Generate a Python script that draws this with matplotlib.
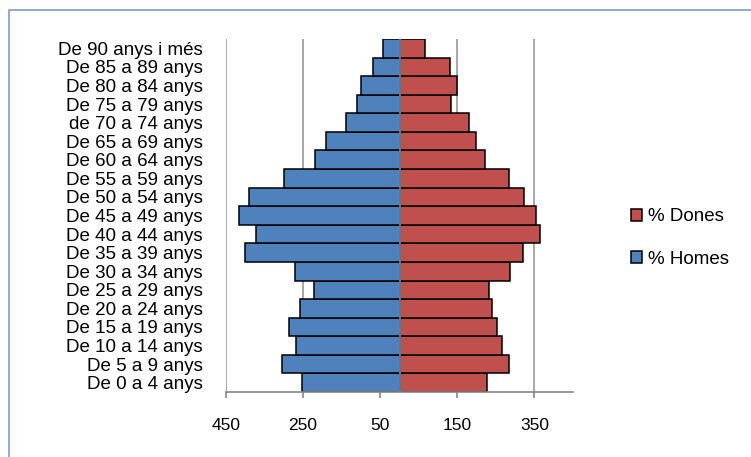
import numpy as np
import matplotlib.pyplot as plt
from matplotlib.patches import Rectangle

# age groups, bottom to top
groups = ["De 0 a 4 anys", "De 5 a 9 anys", "De 10 a 14 anys", "De 15 a 19 anys",
          "De 20 a 24 anys", "De 25 a 29 anys", "De 30 a 34 anys", "De 35 a 39 anys",
          "De 40 a 44 anys", "De 45 a 49 anys", "De 50 a 54 anys", "De 55 a 59 anys",
          "De 60 a 64 anys", "De 65 a 69 anys", "de 70 a 74 anys", "De 75 a 79 anys",
          "De 80 a 84 anys", "De 85 a 89 anys", "De 90 anys i més"]
homes = [-253, -306, -268, -286, -258, -221, -272, -402, -372, -415,
         -391, -300, -218, -190, -139, -110, -100, -70, -43]
dones = [227, 283, 266, 253, 241, 233, 287, 321, 364, 355,
         322, 285, 222, 198, 181, 134, 148, 131, 66]
xticks = [-450, -250, -50, 150, 350]
grid_x = [-450, -250, 150, 350]

plt.rcParams['font.family'] = ['Liberation Sans', 'DejaVu Sans']

fig = plt.figure(figsize=(7.51, 4.57), dpi=100)
fig.patches.append(Rectangle((9 / 751, 0 - 0.05), 1.1, 1 - 10 / 457 + 0.05,
                             transform=fig.transFigure, fill=False,
                             edgecolor='#7B9CCB', linewidth=1.2))

ax = fig.add_axes([226 / 751, (457 - 392) / 457, (573 - 226) / 751, (392 - 39) / 457])
y = np.arange(len(groups))

for gx in grid_x:
    ax.axvline(gx, color='#9A9A9A', linewidth=1.2, zorder=0)

ax.barh(y, dones, height=1.0, color='#C0504D', edgecolor='black', linewidth=1.1,
        label='% Dones', zorder=2)
ax.barh(y, homes, height=1.0, color='#4F81BD', edgecolor='black', linewidth=1.1,
        label='% Homes', zorder=2)
ax.axvline(0, color='#868686', linewidth=1.2, zorder=3)

ax.set_xlim(-450, 450)
ax.set_ylim(-0.5, len(groups) - 0.5)
ax.set_xticks(xticks)
ax.set_xticklabels([str(abs(v)) for v in xticks], fontsize=12.5)
ax.set_yticks(y)
ax.set_yticklabels(groups, fontsize=13.5)
ax.tick_params(axis='y', length=0, pad=17)
ax.tick_params(axis='x', length=4, color='#868686', width=1.2, pad=15, direction='out')

for s in ['top', 'right', 'left']:
    ax.spines[s].set_visible(False)
ax.spines['bottom'].set_color('#868686')
ax.spines['bottom'].set_linewidth(1.2)

ax.legend(loc='center left', bbox_to_anchor=(614 / 751, 1 - 238 / 457),
          bbox_transform=fig.transFigure, frameon=False, fontsize=13.5,
          handlelength=0.6, handleheight=0.6, handletextpad=0.3, labelspacing=1.35)

fig.savefig('out.png', dpi=100)
